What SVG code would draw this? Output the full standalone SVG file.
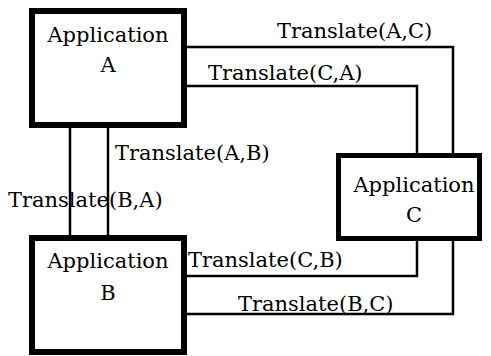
<svg xmlns="http://www.w3.org/2000/svg" width="491" height="356" viewBox="0 0 491 356">
<style>
.box{fill:#fff;stroke:#000}
.ln{fill:none;stroke:#000;stroke-width:2.5}
.t{font-family:"DejaVu Serif",serif;font-size:21px;fill:#000}
.c{text-anchor:middle}
</style>
<rect width="491" height="356" fill="#fff"/>
<g id="connectors">
<path class="ln" d="M187 47H453V153"/>
<path class="ln" d="M187 86H417V153"/>
<path class="ln" d="M70 128V235"/>
<path class="ln" d="M108 128V235"/>
<path class="ln" d="M187 276H417V241"/>
<path class="ln" d="M187 314H453V241"/>
<text class="t" x="277" y="38">Translate(A,C)</text>
<text class="t" x="208" y="80">Translate(C,A)</text>
<text class="t" x="115" y="160">Translate(A,B)</text>
<text class="t" x="8" y="207">Translate(B,A)</text>
<text class="t" x="188" y="267">Translate(C,B)</text>
<text class="t" x="238" y="311">Translate(B,C)</text>
</g>
<g id="appA">
<rect class="box" x="32" y="11" width="152" height="114" stroke-width="6"/>
<text class="t c" x="108" y="42">Application</text>
<text class="t c" x="108" y="72">A</text>
</g>
<g id="appB">
<rect class="box" x="32" y="238" width="152" height="114" stroke-width="6"/>
<text class="t c" x="108" y="268">Application</text>
<text class="t c" x="108" y="300">B</text>
</g>
<g id="appC">
<rect class="box" x="338.5" y="155.5" width="141" height="83" stroke-width="5"/>
<text class="t c" x="414" y="192">Application</text>
<text class="t c" x="414" y="222">C</text>
</g>
</svg>
